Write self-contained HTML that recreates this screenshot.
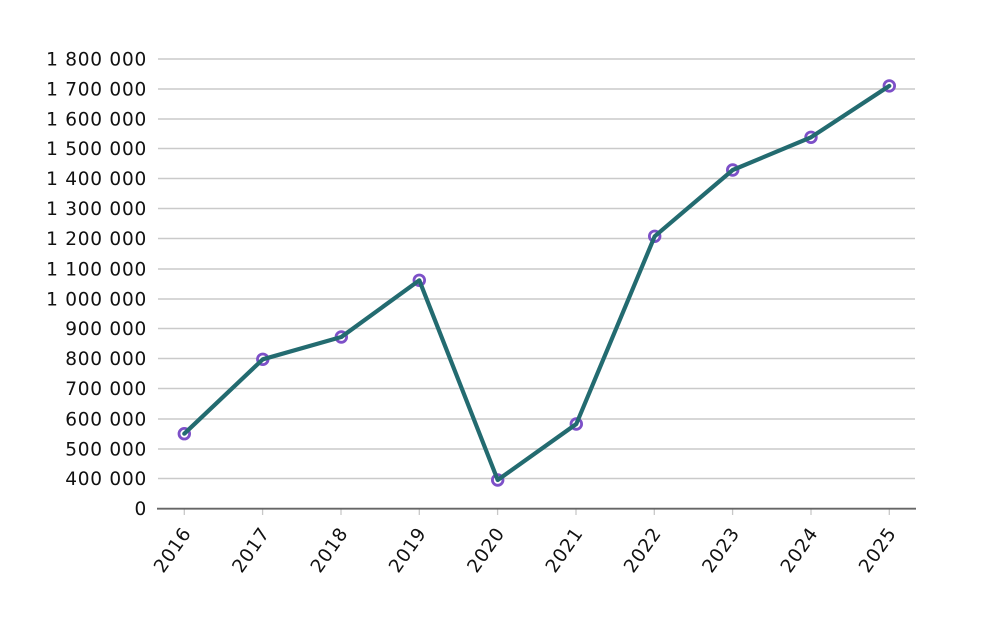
<!DOCTYPE html>
<html><head><meta charset="utf-8"><style>
html,body{margin:0;padding:0;background:#fff;}
svg{display:block;}
text{font-family:"DejaVu Sans","Liberation Sans",sans-serif;font-size:18.5px;fill:#111;letter-spacing:0.75px;}
</style></head><body>
<svg width="1002" height="622" viewBox="0 0 1002 622" xmlns="http://www.w3.org/2000/svg">
<g stroke="#cacaca" stroke-width="1.4">
<line x1="158" x2="915" y1="59" y2="59"/>
<line x1="158" x2="915" y1="89" y2="89"/>
<line x1="158" x2="915" y1="119" y2="119"/>
<line x1="158" x2="915" y1="148.5" y2="148.5"/>
<line x1="158" x2="915" y1="178.5" y2="178.5"/>
<line x1="158" x2="915" y1="208.5" y2="208.5"/>
<line x1="158" x2="915" y1="238.5" y2="238.5"/>
<line x1="158" x2="915" y1="269" y2="269"/>
<line x1="158" x2="915" y1="299" y2="299"/>
<line x1="158" x2="915" y1="328.5" y2="328.5"/>
<line x1="158" x2="915" y1="358.5" y2="358.5"/>
<line x1="158" x2="915" y1="388.5" y2="388.5"/>
<line x1="158" x2="915" y1="419" y2="419"/>
<line x1="158" x2="915" y1="449" y2="449"/>
<line x1="158" x2="915" y1="478.5" y2="478.5"/>
</g>
<g stroke="#c8c8c8" stroke-width="1.3">
<line x1="184.3" x2="184.3" y1="509" y2="515"/>
<line x1="262.6" x2="262.6" y1="509" y2="515"/>
<line x1="341" x2="341" y1="509" y2="515"/>
<line x1="419.3" x2="419.3" y1="509" y2="515"/>
<line x1="497.6" x2="497.6" y1="509" y2="515"/>
<line x1="576" x2="576" y1="509" y2="515"/>
<line x1="654.3" x2="654.3" y1="509" y2="515"/>
<line x1="732.6" x2="732.6" y1="509" y2="515"/>
<line x1="811" x2="811" y1="509" y2="515"/>
<line x1="889.3" x2="889.3" y1="509" y2="515"/>
</g>
<line x1="157" x2="916" y1="508.7" y2="508.7" stroke="#666" stroke-width="1.8"/>
<g text-anchor="end">
<text x="147" y="65.7">1 800 000</text>
<text x="147" y="95.7">1 700 000</text>
<text x="147" y="125.7">1 600 000</text>
<text x="147" y="155.2">1 500 000</text>
<text x="147" y="185.2">1 400 000</text>
<text x="147" y="215.2">1 300 000</text>
<text x="147" y="245.2">1 200 000</text>
<text x="147" y="275.7">1 100 000</text>
<text x="147" y="305.7">1 000 000</text>
<text x="147" y="335.2">900 000</text>
<text x="147" y="365.2">800 000</text>
<text x="147" y="395.2">700 000</text>
<text x="147" y="425.7">600 000</text>
<text x="147" y="455.7">500 000</text>
<text x="147" y="485.2">400 000</text>
<text x="147" y="515.2">0</text>
</g>
<g text-anchor="end">
<text transform="translate(192,533) rotate(-55)">2016</text>
<text transform="translate(270.3,533) rotate(-55)">2017</text>
<text transform="translate(348.7,533) rotate(-55)">2018</text>
<text transform="translate(427,533) rotate(-55)">2019</text>
<text transform="translate(505.3,533) rotate(-55)">2020</text>
<text transform="translate(583.7,533) rotate(-55)">2021</text>
<text transform="translate(662,533) rotate(-55)">2022</text>
<text transform="translate(740.3,533) rotate(-55)">2023</text>
<text transform="translate(818.7,533) rotate(-55)">2024</text>
<text transform="translate(897,533) rotate(-55)">2025</text>
</g>
<g fill="#fff" stroke="#7d50c8" stroke-width="2.8">
<circle cx="184.3" cy="433.7" r="5.3"/>
<circle cx="262.8" cy="359.3" r="5.3"/>
<circle cx="341.3" cy="337" r="5.3"/>
<circle cx="419.3" cy="280.3" r="5.3"/>
<circle cx="497.7" cy="480" r="5.3"/>
<circle cx="576.3" cy="424" r="5.3"/>
<circle cx="654.7" cy="236.3" r="5.3"/>
<circle cx="732.7" cy="170" r="5.3"/>
<circle cx="811" cy="137.3" r="5.3"/>
<circle cx="889.3" cy="85.9" r="5.3"/>
</g>
<polyline fill="none" stroke="#236b70" stroke-width="4.2" stroke-linejoin="round" stroke-linecap="round"
points="184.3,433.7 262.8,359.3 341.3,337 419.3,280.3 497.7,480 576.3,424 654.7,236.3 732.7,170 811,137.3 889.3,85.9"/>
</svg>
</body></html>
